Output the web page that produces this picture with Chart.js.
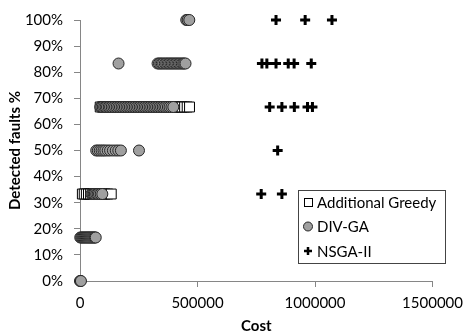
<!DOCTYPE html>
<html>
<head>
<meta charset="utf-8">
<script src="https://cdn.jsdelivr.net/npm/chart.js@4/dist/chart.umd.min.js"></script>
<style>
  html, body { margin: 0; padding: 0; background: #fff; }
  #c { display: block; }
</style>
</head>
<body>
<canvas id="c" width="470" height="336"></canvas>
<script>
// Fault-detection levels (share of the 6 seeded faults found)
const faultLevels = [0, 16.67, 33.33, 50, 66.67, 83.33, 100];

// Cost values per fault level, one inner list per level above
const greedyCosts = [
  [],
  [],
  [10000, 18000, 27000, 36000, 45000, 55000, 64000, 74000, 84000, 95000, 106000, 118000, 133000],
  [],
  [86000, 95000, 104000, 114000, 124000, 133000, 143000, 153000, 163000, 173000, 183000,
   193000, 203000, 213000, 223000, 234000, 244000, 254000, 264000, 275000, 285000, 295000,
   306000, 316000, 326000, 337000, 347000, 358000, 368000, 379000, 390000, 401000, 412000,
   423000, 434000, 445000, 456000, 466000],
  [],
  []
];
const divGaCosts = [
  [0, 2000, 4000],
  [1000, 5000, 9000, 13000, 17000, 21000, 25000, 29000, 33000, 37000, 41000, 45000,
   49000, 53000, 57000, 61000, 64000, 67000],
  [48000, 53000, 58000, 63000, 69000, 75000, 81000, 88000, 95000],
  [69000, 76000, 84000, 92000, 100000, 108000, 118000, 128000, 140000, 152000, 163000, 174000, 251000],
  [86000, 91000, 97000, 103000, 109000, 115000, 122000, 128000, 135000, 142000, 149000,
   156000, 163000, 170000, 177000, 184000, 191000, 198000, 205000, 212000, 219000, 226000,
   233000, 240000, 247000, 254000, 261000, 268000, 275000, 282000, 289000, 296000, 303000,
   310000, 317000, 324000, 331000, 338000, 345000, 352000, 359000, 366000, 374000, 381000,
   389000, 397000],
  [164000, 330000, 336000, 342000, 348000, 354000, 361000, 367000, 373000, 379000, 385000,
   391000, 397000, 403000, 409000, 415000, 421000, 427000, 433000, 439000, 444000, 449000],
  [452000, 458000, 465000]
];
const nsgaCosts = [
  [],
  [],
  [771000, 859000],
  [841000],
  [807000, 859000, 912000, 968000, 989000],
  [774000, 795000, 834000, 886000, 911000, 984000],
  [834000, 958000, 1072000]
];

const seriesNames = ['Additional Greedy', 'DIV-GA', 'NSGA-II'];
const xTicks = [0, 500000, 1000000, 1500000];
const yTicks = [0, 10, 20, 30, 40, 50, 60, 70, 80, 90, 100];

function toPoints(costs) {
  return faultLevels.flatMap((lv, i) => costs[i].map(c => ({ x: c, y: lv })));
}

const FONT = 'Lato, "Liberation Sans", sans-serif';
const axisGrey = '#868686';

const styles = [
  { pointStyle: 'rect', radius: 7, backgroundColor: '#ffffff', borderColor: '#000000', borderWidth: 1 },
  { pointStyle: 'circle', radius: 5.5, backgroundColor: '#a0a0a0', borderColor: '#262626', borderWidth: 1 },
  { pointStyle: 'cross', radius: 5, backgroundColor: '#000000', borderColor: '#000000', borderWidth: 3 }
];

// Boxed legend drawn inside the plot area
const boxLegend = {
  id: 'boxLegend',
  afterDraw(chart, args, opts) {
    const ctx = chart.ctx;
    const { left, top, width, height, rowGap, markerX, textX } = opts;
    ctx.save();
    ctx.fillStyle = '#ffffff';
    ctx.fillRect(left, top, width, height);
    ctx.strokeStyle = '#444444';
    ctx.lineWidth = 1;
    ctx.strokeRect(left + 0.5, top + 0.5, width, height);
    ctx.font = '15px ' + FONT;
    ctx.textBaseline = 'middle';
    ctx.textAlign = 'left';
    seriesNames.forEach((name, i) => {
      const y = top + opts.firstRow + i * rowGap;
      const s = styles[i];
      const mx = left + markerX;
      ctx.fillStyle = s.backgroundColor;
      ctx.strokeStyle = s.borderColor;
      ctx.lineWidth = i === 2 ? 2.5 : 1;
      if (i === 0) {
        ctx.fillRect(mx - 4, y - 4, 8, 8);
        ctx.strokeRect(mx - 3.5, y - 3.5, 8, 8);
      } else if (i === 1) {
        ctx.beginPath();
        ctx.arc(mx, y, 4.5, 0, Math.PI * 2);
        ctx.fill();
        ctx.stroke();
      } else {
        ctx.beginPath();
        ctx.moveTo(mx - 4, y); ctx.lineTo(mx + 4, y);
        ctx.moveTo(mx, y - 4); ctx.lineTo(mx, y + 4);
        ctx.stroke();
      }
      ctx.fillStyle = '#000000';
      ctx.fillText(name, left + textX, y + 1);
    });
    ctx.restore();
  }
};

new Chart(document.getElementById('c'), {
  type: 'scatter',
  data: {
    datasets: [
      Object.assign({ label: seriesNames[0], data: toPoints(greedyCosts), order: 3, clip: false }, styles[0]),
      Object.assign({ label: seriesNames[1], data: toPoints(divGaCosts), order: 2, clip: false }, styles[1]),
      Object.assign({ label: seriesNames[2], data: toPoints(nsgaCosts), order: 1, clip: false }, styles[2])
    ]
  },
  options: {
    responsive: false,
    animation: false,
    devicePixelRatio: 1,
    layout: { padding: { top: 14, right: 32, bottom: 0, left: 0 } },
    plugins: {
      legend: { display: false },
      tooltip: { enabled: false },
      boxLegend: { left: 298, top: 190, width: 147, height: 73, firstRow: 12, rowGap: 24.5, markerX: 10, textX: 19 }
    },
    scales: {
      x: {
        type: 'linear',
        min: 0,
        max: 1500000,
        afterBuildTicks(scale) { scale.ticks = xTicks.map(v => ({ value: v })); },
        afterFit(scale) { scale.height = 55; },
        ticks: {
          color: '#000',
          font: { family: FONT, size: 15 },
          padding: 7,
          maxRotation: 0,
          callback: v => String(v)
        },
        grid: { drawOnChartArea: false, drawTicks: true, tickLength: 6, color: axisGrey },
        border: { display: true, color: axisGrey, width: 1 },
        title: {
          display: true,
          text: 'Cost',
          color: '#000',
          font: { family: FONT, size: 15, weight: 'bold' },
          padding: { top: 0, bottom: 1 }
        }
      },
      y: {
        type: 'linear',
        min: 0,
        max: 100,
        afterBuildTicks(scale) { scale.ticks = yTicks.map(v => ({ value: v })); },
        afterFit(scale) { scale.width = 80; },
        ticks: {
          color: '#000',
          font: { family: FONT, size: 15 },
          padding: 11,
          callback: v => v + '%'
        },
        grid: { drawOnChartArea: false, drawTicks: true, tickLength: 6, color: axisGrey },
        border: { display: true, color: axisGrey, width: 1 },
        title: {
          display: true,
          text: 'Detected faults %',
          color: '#000',
          font: { family: FONT, size: 15, weight: 'bold' },
          padding: { top: 6, bottom: 0 }
        }
      }
    }
  },
  plugins: [boxLegend]
});
</script>
</body>
</html>
